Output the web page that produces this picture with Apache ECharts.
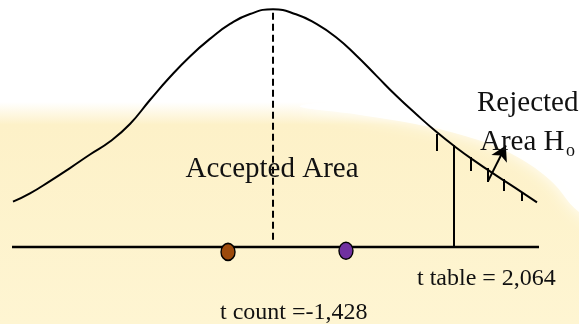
<!DOCTYPE html>
<html>
<head>
<meta charset="utf-8">
<script src="https://cdn.jsdelivr.net/npm/echarts@6/dist/echarts.min.js"></script>
<style>
	html, body { margin: 0; padding: 0; background: #fff; }
	#chart { width: 579px; height: 324px; }
</style>
</head>
<body>
<div id="chart"></div>
<script>
// curve: t value / relative height
var curveX = [-2.965, -2.771, -2.543, -2.315, -2.087, -1.859, -1.631, -1.403, -1.175, -0.947, -0.719, -0.490, -0.262, 0,
	0.262, 0.490, 0.719, 0.947, 1.175, 1.403, 1.631, 1.859, 2.087, 2.315, 2.543, 2.771, 3.010];
var curveY = [0.191, 0.226, 0.278, 0.333, 0.390, 0.445, 0.519, 0.620, 0.717, 0.804, 0.878, 0.941, 0.983, 1.003,
	0.982, 0.942, 0.885, 0.809, 0.724, 0.639, 0.561, 0.487, 0.420, 0.359, 0.302, 0.247, 0.188];

var baseX = [-2.976, 3.033];
var tTable = 2.064;
var tTableTop = 0.430;
var centerTop = 1.0;
var centerBottom = 0.030;

// hatch marks on the rejection tail
var hatchX = [1.870, 2.258, 2.452, 2.634, 2.839];
var hatchTop = [0.477, 0.380, 0.333, 0.287, 0.228];
var hatchBottom = [0.405, 0.321, 0.274, 0.236, 0.194];

var arrowFrom = [2.452, 0.278];
var arrowTo = [2.655, 0.428];

var dotX = [-0.513, 0.832];
var dotY = [-0.021, -0.016];
var dotColors = ['#9c4a0c', '#7030a0'];

var chart = echarts.init(document.getElementById('chart'));

var curveData = [];
for (var i = 0; i < curveX.length; i++) {
	curveData.push([curveX[i], curveY[i]]);
}
var hatchLines = [];
for (var j = 0; j < hatchX.length; j++) {
	hatchLines.push([{ coord: [hatchX[j], hatchTop[j]] }, { coord: [hatchX[j], hatchBottom[j]] }]);
}
var dots = [];
for (var k = 0; k < dotX.length; k++) {
	dots.push({ value: [dotX[k], dotY[k]], itemStyle: { color: dotColors[k] } });
}

var serif = '"Liberation Serif", "DejaVu Serif", serif';

var option = {
	animation: false,
	grid: { left: 0, right: 0, top: 0, bottom: 0 },
	xAxis: { type: 'value', min: -3.113, max: 3.489, show: false },
	yAxis: { type: 'value', min: -0.325, max: 1.042, show: false },
	graphic: [{
		type: 'rect',
		z: -10,
		shape: { x: 0, y: 0, width: 579, height: 324 },
		style: {
			fill: new echarts.graphic.LinearGradient(0, 0, 0, 1, [
				{ offset: 0, color: '#ffffff' },
				{ offset: 0.315, color: '#ffffff' },
				{ offset: 0.385, color: '#fdf1c8' },
				{ offset: 1, color: '#fef5d2' }
			])
		}
	}, {
		// white swoosh top right
		type: 'polygon',
		z: -9,
		shape: {
			smooth: 0.4,
			points: [[300, 106], [380, 98], [640, 60], [640, 250], [579, 212], [550, 180], [510, 153], [465, 136], [415, 124], [360, 115]]
		},
		style: { fill: 'rgba(255,255,255,0.92)', shadowBlur: 16, shadowColor: '#ffffff' }
	}, {
		type: 'text', z: 100, x: 272, y: 169,
		style: { text: 'Accepted Area', font: '29px ' + serif, fill: '#111', align: 'center', verticalAlign: 'middle' }
	}, {
		type: 'text', z: 100, x: 477, y: 103,
		style: { text: 'Rejected', font: '29px ' + serif, fill: '#111', align: 'left', verticalAlign: 'middle' }
	}, {
		type: 'text', z: 100, x: 480, y: 142,
		style: { text: 'Area H', font: '29px ' + serif, fill: '#111', align: 'left', verticalAlign: 'middle' }
	}, {
		type: 'text', z: 100, x: 566, y: 151,
		style: { text: 'o', font: '18px ' + serif, fill: '#111', align: 'left', verticalAlign: 'middle' }
	}, {
		type: 'text', z: 100, x: 417, y: 279,
		style: { text: 't table = 2,064', font: '24px ' + serif, fill: '#111', align: 'left', verticalAlign: 'middle' }
	}, {
		type: 'text', z: 100, x: 220, y: 313,
		style: { text: 't count =-1,428', font: '24px ' + serif, fill: '#111', align: 'left', verticalAlign: 'middle' }
	}],
	series: [{
		type: 'line',
		data: curveData,
		smooth: 0.5,
		showSymbol: false,
		lineStyle: { color: '#000', width: 2 }
	}, {
		type: 'line',
		data: [[baseX[0], 0], [baseX[1], 0]],
		showSymbol: false,
		lineStyle: { color: '#000', width: 2.5 }
	}, {
		type: 'line',
		data: [[0, centerBottom], [0, centerTop]],
		showSymbol: false,
		lineStyle: { color: '#000', width: 2, type: [7, 4] }
	}, {
		type: 'line',
		data: [[tTable, 0], [tTable, tTableTop]],
		showSymbol: false,
		lineStyle: { color: '#000', width: 2 }
	}, {
		type: 'line',
		data: [],
		markLine: {
			silent: true,
			symbol: ['none', 'none'],
			label: { show: false },
			lineStyle: { color: '#000', width: 2, type: 'solid' },
			data: hatchLines
		}
	}, {
		type: 'line',
		data: [],
		z: 6,
		markLine: {
			silent: true,
			symbol: ['none', 'arrow'],
			symbolSize: [13, 15],
			label: { show: false },
			lineStyle: { color: '#000', width: 2, type: 'solid' },
			data: [[{ coord: arrowFrom }, { coord: arrowTo }]]
		}
	}, {
		type: 'scatter',
		data: dots,
		symbol: 'circle',
		symbolSize: [14, 17],
		z: 5,
		itemStyle: { borderColor: '#000', borderWidth: 1.5, opacity: 1 }
	}]
};

chart.setOption(option);
</script>
</body>
</html>
